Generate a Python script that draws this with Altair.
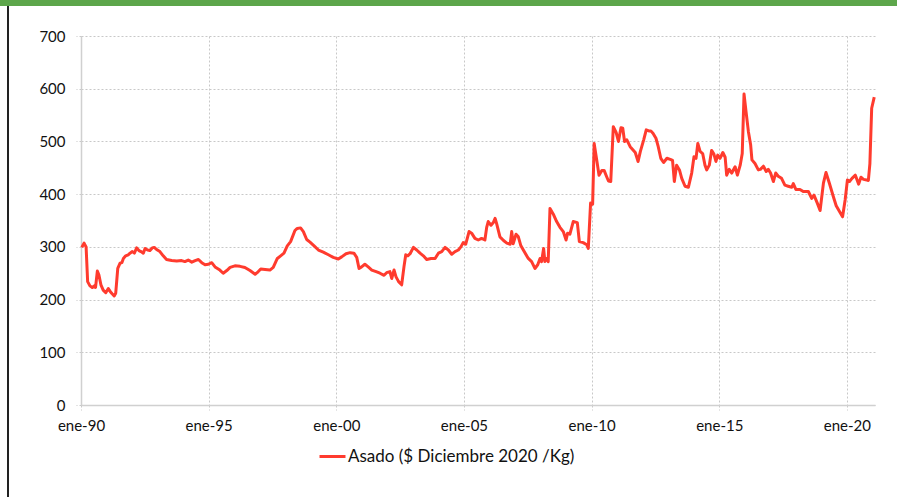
import altair as alt
import pandas as pd

# Monthly real price of asado, fractional year -> $ (Dec 2020) per kg
years = [
    1990.03, 1990.12, 1990.20, 1990.26, 1990.35, 1990.44, 1990.52, 1990.57, 1990.64, 1990.70,
    1990.78, 1990.87, 1990.97, 1991.07, 1991.15, 1991.22, 1991.30, 1991.36, 1991.44, 1991.53,
    1991.60, 1991.66, 1991.75, 1991.85, 1991.92, 1992.01, 1992.09, 1992.18, 1992.27, 1992.35,
    1992.44, 1992.51, 1992.61, 1992.70, 1992.79, 1992.87, 1992.96, 1993.09, 1993.22, 1993.35,
    1993.55, 1993.75, 1993.94, 1994.07, 1994.20, 1994.34, 1994.47, 1994.60, 1994.73, 1994.86,
    1994.99, 1995.12, 1995.25, 1995.44, 1995.57, 1995.71, 1995.84, 1996.03, 1996.23, 1996.42,
    1996.62, 1996.82, 1996.90, 1997.04, 1997.21, 1997.40, 1997.53, 1997.69, 1997.82, 1997.95,
    1998.08, 1998.21, 1998.38, 1998.47, 1998.60, 1998.71, 1998.84, 1998.97, 1999.13, 1999.30,
    1999.49, 1999.69, 1999.88, 2000.08, 2000.21, 2000.38, 2000.54, 2000.69, 2000.80, 2000.89,
    2000.99, 2001.12, 2001.25, 2001.39, 2001.56, 2001.71, 2001.87, 2001.97, 2002.10, 2002.17,
    2002.26, 2002.34, 2002.44, 2002.56, 2002.65, 2002.72, 2002.80, 2002.89, 2003.02, 2003.15,
    2003.28, 2003.41, 2003.54, 2003.71, 2003.87, 2004.00, 2004.13, 2004.26, 2004.39, 2004.52,
    2004.65, 2004.78, 2004.88, 2004.97, 2005.07, 2005.20, 2005.30, 2005.43, 2005.56, 2005.69,
    2005.82, 2005.89, 2005.95, 2006.06, 2006.15, 2006.22, 2006.28, 2006.41, 2006.55, 2006.68,
    2006.81, 2006.87, 2006.93, 2007.04, 2007.13, 2007.23, 2007.36, 2007.52, 2007.65, 2007.78,
    2007.89, 2007.98, 2008.04, 2008.12, 2008.17, 2008.24, 2008.30, 2008.37, 2008.50, 2008.63,
    2008.76, 2008.89, 2009.00, 2009.06, 2009.15, 2009.28, 2009.44, 2009.52, 2009.67, 2009.81,
    2009.87, 2009.96, 2010.04, 2010.10, 2010.20, 2010.29, 2010.40, 2010.49, 2010.59, 2010.66,
    2010.75, 2010.85, 2010.96, 2011.05, 2011.15, 2011.22, 2011.29, 2011.38, 2011.51, 2011.71,
    2011.82, 2011.91, 2012.04, 2012.14, 2012.24, 2012.32, 2012.41, 2012.52, 2012.61, 2012.71,
    2012.82, 2012.95, 2013.08, 2013.17, 2013.24, 2013.33, 2013.44, 2013.53, 2013.66, 2013.79,
    2013.92, 2014.01, 2014.09, 2014.16, 2014.25, 2014.35, 2014.44, 2014.51, 2014.61, 2014.70,
    2014.79, 2014.87, 2014.94, 2015.03, 2015.14, 2015.23, 2015.29, 2015.39, 2015.49, 2015.62,
    2015.71, 2015.82, 2015.90, 2015.97, 2016.05, 2016.14, 2016.23, 2016.28, 2016.40, 2016.53,
    2016.61, 2016.73, 2016.84, 2016.92, 2017.01, 2017.12, 2017.21, 2017.31, 2017.44, 2017.57,
    2017.70, 2017.84, 2017.90, 2018.00, 2018.16, 2018.29, 2018.49, 2018.62, 2018.71, 2018.84,
    2018.95, 2019.08, 2019.18, 2019.31, 2019.47, 2019.58, 2019.71, 2019.83, 2019.93, 2020.02,
    2020.10, 2020.20, 2020.33, 2020.46, 2020.55, 2020.65, 2020.77, 2020.84, 2020.90, 2020.97,
    2021.07,
]

asado = [
    299, 307, 300, 234, 226, 223, 226, 223, 254, 247,
    228, 218, 213, 221, 215, 211, 207, 212, 259, 269,
    270, 278, 283, 285, 288, 291, 288, 298, 293, 291,
    288, 297, 294, 293, 298, 299, 295, 291, 283, 276,
    274, 273, 274, 272, 275, 271, 274, 276, 270, 266,
    267, 270, 262, 256, 250, 255, 261, 264, 263, 261,
    255, 248, 251, 258, 257, 256, 261, 278, 283, 288,
    302, 310, 331, 335, 336, 329, 314, 309, 302, 294,
    290, 285, 280, 277, 281, 287, 289, 288, 280, 259,
    262, 267, 262, 256, 253, 250, 246, 251, 253, 240,
    256, 243, 234, 228, 262, 285, 283, 287, 299, 294,
    288, 283, 276, 278, 278, 288, 291, 299, 294, 286,
    291, 294, 300, 308, 305, 329, 326, 316, 313, 316,
    313, 337, 348, 341, 346, 354, 344, 319, 312, 307,
    305, 329, 306, 324, 319, 302, 291, 278, 272, 259,
    266, 278, 272, 297, 272, 278, 272, 373, 362, 348,
    337, 329, 313, 326, 324, 348, 346, 310, 308, 304,
    297, 383, 381, 496, 465, 436, 445, 445, 433, 425,
    424, 528, 517, 500, 526, 525, 500, 503, 490, 479,
    462, 481, 503, 522, 520, 520, 515, 506, 490, 468,
    460, 468, 466, 464, 424, 455, 446, 430, 415, 413,
    440, 471, 468, 496, 481, 477, 455, 446, 455, 483,
    476, 462, 474, 468, 479, 470, 436, 447, 440, 452,
    436, 455, 477, 590, 556, 519, 493, 465, 458, 446,
    447, 453, 443, 447, 440, 424, 440, 434, 430, 417,
    415, 413, 420, 409, 409, 405, 405, 392, 398, 383,
    369, 421, 441, 421, 395, 378, 367, 357, 389, 427,
    424, 430, 436, 419, 432, 428, 427, 426, 458, 563,
    584,
]

x_ticks = [1990, 1995, 2000, 2005, 2010, 2015, 2020]
y_ticks = [0, 100, 200, 300, 400, 500, 600, 700]
series_name = "Asado ($ Diciembre 2020 /Kg)"

FONT = "Lato"
LINE_RED = "#ff3b2e"

df = pd.DataFrame({"t": years, "valor": asado, "serie": series_name})

line = alt.Chart(df).mark_line(strokeWidth=3, strokeJoin="round").encode(
    x=alt.X(
        "t:Q",
        scale=alt.Scale(domain=[1990, 2021.1], nice=False, zero=False),
        axis=alt.Axis(
            values=x_ticks,
            format="d",
            labelExpr="'ene-' + substring(datum.label, 2, 4)",
            title=None,
            labelPadding=8,
            labelFlush=False,
        ),
    ),
    y=alt.Y(
        "valor:Q",
        scale=alt.Scale(domain=[0, 700], nice=False),
        axis=alt.Axis(values=y_ticks, title=None, labelPadding=11),
    ),
    color=alt.Color(
        "serie:N",
        scale=alt.Scale(range=[LINE_RED]),
        legend=alt.Legend(
            title=None,
            orient="none",
            legendX=237,
            legendY=406,
            symbolType="stroke",
            symbolSize=676,
            symbolStrokeWidth=3,
            labelOffset=1,
            labelFont=FONT,
            labelFontSize=17,
            labelColor="#111111",
            labelLimit=0,
            padding=0,
        ),
    ),
)

frame = pd.DataFrame({"k": [0]})

# green band along the top edge
top_band = alt.Chart(frame).mark_rect(color="#5da64b").encode(
    x=alt.value(-81), x2=alt.value(816), y=alt.value(-36), y2=alt.value(-30)
)

# dark border on the left edge
left_border = alt.Chart(frame).mark_rule(color="#222222", strokeWidth=2).encode(
    x=alt.value(-73), y=alt.value(-30), y2=alt.value(461)
)

chart = (
    alt.layer(top_band, left_border, line)
    .properties(
        width=794,
        height=369,
        autosize=alt.AutoSizeParams(type="none"),
        padding={"left": 81, "top": 36, "right": 22, "bottom": 92},
        background="white",
    )
    .configure_view(strokeWidth=0)
    .configure_axis(
        labelFont=FONT,
        labelFontSize=15,
        labelColor="#111111",
        domainColor="#d0d0d0",
        domainWidth=1.5,
        tickColor="#c8c8c8",
        tickSize=5,
        tickDash=[2, 2],
        gridColor="#c8c8c8",
        gridDash=[2, 2],
        gridWidth=1,
    )
)

chart.save("out.html", embed_options={"renderer": "svg", "actions": False})
